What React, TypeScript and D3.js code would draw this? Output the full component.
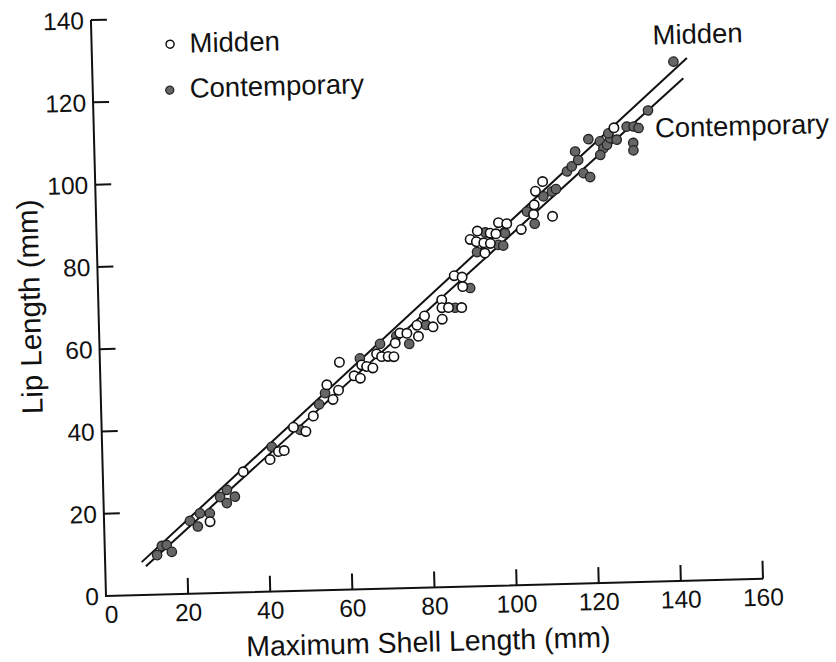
import React from "react";
import * as d3 from "d3";

const xTicks = [0, 20, 40, 60, 80, 100, 120, 140, 160];
const yTicks = [0, 20, 40, 60, 80, 100, 120, 140];

const contemporaryPoints: [number, number][] = [
  [12.7, 9.6], [13.9, 11.8], [15.1, 12.0], [16.3, 10.3], [20.9, 17.7], [22.8, 16.3],
  [23.4, 19.5], [25.8, 19.4], [28.4, 23.3], [30.1, 25.0], [30.0, 21.8], [32.0, 23.3],
  [41.3, 35.2], [48.3, 39.1], [53.1, 45.2], [54.6, 47.9], [63.3, 56.1], [68.3, 59.5],
  [72.3, 61.3], [75.4, 59.3], [79.6, 63.8], [86.8, 67.8], [90.6, 72.5], [92.5, 81.2],
  [94.6, 85.9], [97.7, 82.8], [98.9, 82.6], [99.4, 85.6], [104.9, 90.7], [106.7, 87.7],
  [109.0, 94.3], [111.1, 95.4], [112.1, 96.0], [114.9, 100.2], [116.1, 101.4], [117.0, 105.0],
  [117.7, 102.9], [118.9, 99.7], [120.5, 98.7], [120.3, 107.9], [123.1, 107.3], [123.9, 105.6],
  [123.1, 104.0], [124.8, 106.4], [125.6, 108.0], [127.2, 107.6], [125.2, 109.2], [129.7, 110.7],
  [131.4, 110.7], [132.6, 110.3], [131.2, 106.7], [131.2, 104.9], [135.0, 114.5], [141.5, 126.2],
];

const middenPoints: [number, number][] = [
  [25.8, 17.4], [34.2, 29.3], [40.8, 32.1], [42.9, 34.0], [44.3, 34.2], [46.7, 39.8],
  [49.7, 38.7], [51.6, 42.4], [56.5, 46.3], [55.1, 49.9], [57.9, 48.5], [58.3, 55.3],
  [61.8, 51.9], [63.3, 51.3], [63.7, 54.5], [64.9, 54.1], [66.4, 53.7], [67.4, 57.1],
  [68.6, 56.4], [70.2, 56.4], [71.6, 56.3], [72.0, 59.6], [73.2, 62.0], [74.9, 61.9],
  [77.7, 61.1], [77.4, 63.8], [79.3, 66.0], [81.3, 63.3], [83.6, 65.1], [83.6, 69.8],
  [83.6, 67.9], [85.2, 67.9], [88.4, 67.8], [86.8, 75.6], [88.7, 75.2], [88.8, 72.9],
  [94.4, 80.9], [90.9, 84.3], [92.4, 83.7], [94.2, 83.4], [95.8, 83.2], [92.7, 86.3],
  [95.8, 85.7], [97.2, 85.5], [97.9, 88.2], [99.9, 87.9], [103.4, 86.4], [106.5, 90.0],
  [111.1, 89.4], [107.1, 95.6], [108.9, 97.9], [106.7, 92.3], [126.6, 110.5],
];

const middenFit: [number, number][] = [[8.9, 8.0], [144.8, 127.0]];
const contemporaryFit: [number, number][] = [[9.9, 7.0], [143.8, 122.1]];

const FONT = "'Liberation Sans', Arial, Helvetica, sans-serif";

export default function App() {
  const ox = 106;
  const oy = 596;
  const x = d3.scaleLinear().domain([0, 160]).range([ox, ox + 657.2]);
  const y = d3.scaleLinear().domain([0, 140]).range([oy, oy - 576.1]);
  const line = d3
    .line<[number, number]>()
    .x((d) => x(d[0]))
    .y((d) => y(d[1]));
  const tickLen = 16;
  const r = 4.7;

  return (
    <svg
      width={836}
      height={662}
      style={{ position: "absolute", left: 0, top: 0, background: "#fff" }}
      fontFamily={FONT}
    >
      <rect width={836} height={662} fill="#fff" />
      <g transform={`rotate(-1.5, ${ox}, ${oy})`}>
        {/* axes */}
        <path
          d={`M${x(0)},${y(140)} V${y(0)} H${x(160)}`}
          fill="none"
          stroke="#111"
          strokeWidth={2}
        />
        {yTicks
          .filter((t) => t > 0)
          .map((t) => (
            <line key={"yt" + t} x1={x(0)} x2={x(0) + tickLen} y1={y(t)} y2={y(t)} stroke="#111" strokeWidth={2} />
          ))}
        {xTicks
          .filter((t) => t > 0)
          .map((t) => (
            <line key={"xt" + t} x1={x(t)} x2={x(t)} y1={y(0)} y2={y(0) - tickLen - (t === 160 ? 2 : 0)} stroke="#111" strokeWidth={2} />
          ))}
        {yTicks.map((t) => (
          <text key={"yl" + t} x={x(0) - 7} y={y(t)} dy="0.36em" textAnchor="end" fontSize={24.5} fill="#111">
            {t}
          </text>
        ))}
        {xTicks.map((t) => (
          <text key={"xl" + t} x={x(t) + (t === 0 ? 5 : 0)} y={y(0) + 27} textAnchor="middle" fontSize={24.5} fill="#111">
            {t}
          </text>
        ))}
        <text x={427} y={660} textAnchor="middle" fontSize={28.5} fill="#111">
          Maximum Shell Length (mm)
        </text>
        <text transform="translate(47.6,305) rotate(-90)" textAnchor="middle" fontSize={29.5} fill="#111">
          Lip Length (mm)
        </text>

        {/* regression lines */}
        <path d={line(middenFit) || ""} fill="none" stroke="#111" strokeWidth={2} />
        <path d={line(contemporaryFit) || ""} fill="none" stroke="#111" strokeWidth={2} />

        {/* points */}
        {contemporaryPoints.map((p, i) => (
          <circle key={"c" + i} cx={x(p[0])} cy={y(p[1])} r={r} fill="#666" stroke="#222" strokeWidth={1.3} />
        ))}
        {middenPoints.map((p, i) => (
          <circle key={"m" + i} cx={x(p[0])} cy={y(p[1])} r={r} fill="#fff" stroke="#111" strokeWidth={1.6} />
        ))}

        {/* line labels */}
        <text x={667} y={59} fontSize={27.5} fill="#111">Midden</text>
        <text x={667} y={152} fontSize={27.5} fill="#111">Contemporary</text>

        {/* legend */}
        <circle cx={184.5} cy={46} r={4} fill="#fff" stroke="#111" strokeWidth={1.5} />
        <text x={204} y={55} fontSize={27.5} fill="#111">Midden</text>
        <circle cx={183} cy={92} r={4} fill="#666" stroke="#222" strokeWidth={1.3} />
        <text x={203} y={100} fontSize={27.5} fill="#111">Contemporary</text>
      </g>
    </svg>
  );
}
